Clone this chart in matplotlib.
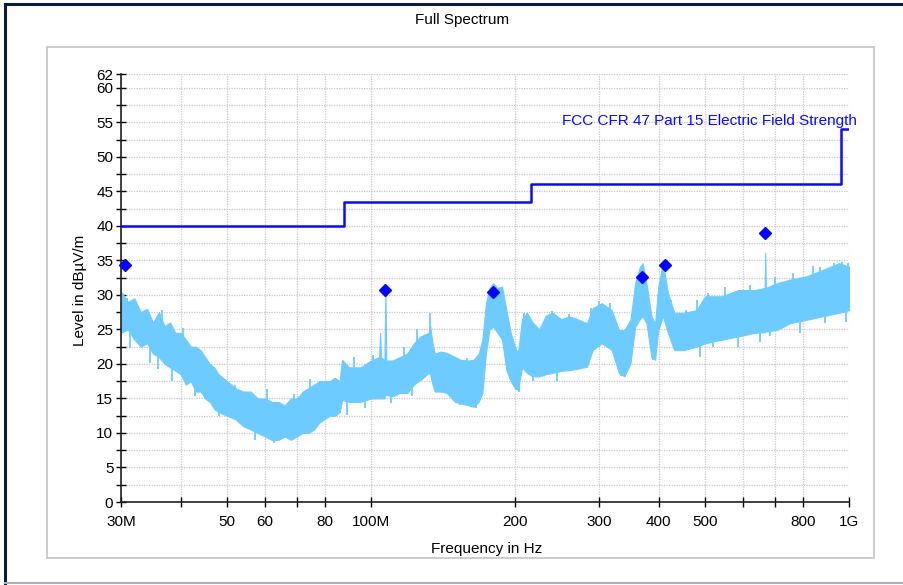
import matplotlib
matplotlib.use("Agg")
import numpy as np
import matplotlib.pyplot as plt
from matplotlib.lines import Line2D
from matplotlib.patches import Rectangle
from matplotlib.ticker import FixedLocator, NullFormatter

plt.rcParams['font.family'] = ['Liberation Sans', 'DejaVu Sans']

# ---- data (frequencies in MHz, levels in dBuV/m) ----
spec_freq = [30, 31, 32, 33, 34, 35, 36, 37, 38, 39, 40, 41, 42, 43, 44, 45, 46, 47, 48, 50,
             52, 54, 56, 58, 60, 62, 64, 66, 68, 70, 72, 74, 76, 78, 80, 82, 84, 86, 87, 90,
             95, 100, 104, 104.5, 105, 106.7, 107.2, 107.7, 111, 115, 119, 123, 127, 132, 133,
             134.5, 136, 140, 144, 150, 154, 160, 164, 168, 171, 174, 177, 180, 184, 188, 192,
             196, 200, 203, 207, 212, 218, 225, 232, 240, 250, 260, 270, 283, 291, 304, 319,
             330, 339, 349, 357, 365, 370, 377, 386, 393, 399, 408, 418, 431, 451, 480, 500,
             541, 587, 634, 666, 668, 670, 706, 752, 815, 880, 953, 1000]
spec_low = [24.5, 25, 23.5, 22.5, 23, 21.5, 21, 20, 19.5, 19, 18.5, 17, 17.5, 16, 16, 15, 14.5, 13.5, 13, 12.5,
            12, 11, 10.5, 10, 9.5, 9, 9, 9.5, 9, 9.5, 10, 10, 10.5, 11.5, 12, 12.5, 12.5, 13, 14.8, 14.5,
            14.5, 15, 15, 15, 15, 15, 15.5, 15.5, 15.3, 15.8, 15.8, 17, 17.7, 18.7, 18.5,
            17, 16, 16, 15.8, 14.5, 14.3, 14, 13.8, 14.5, 15.8, 21.6, 25, 25.4, 24.5, 23.5, 19.1,
            17.5, 16.5, 16.2, 19.5, 18.7, 18.2, 18.2, 18.5, 18.7, 19, 19.1, 19.3, 19.6, 22, 23, 22,
            18.7, 18.2, 20.1, 25.4, 26.5, 26.9, 25.9, 21, 20.6, 24.9, 26.9, 24.5, 22, 22, 22.5, 23,
            23.5, 24, 24.5, 24.6, 24.7, 24.7, 24.9, 25.9, 26.4, 26.9, 27.4, 27.8]
spec_high = [30.5, 29, 29.5, 27.5, 28, 26, 27.5, 25.5, 26, 24.5, 24.5, 23.5, 22.5, 22.5, 22, 21, 20, 19.5, 18.5, 17.5,
             16.5, 16, 16, 15, 15, 14.5, 14.5, 14, 15, 15, 16, 16.5, 17, 17.5, 17.5, 17.5, 18, 17.5, 20.6, 19.5,
             19.5, 20.5, 21, 24.5, 21, 20.5, 30.7, 20.5, 20.5, 21, 21.5, 23, 24, 24.5, 25.5,
             23, 21.5, 21.8, 21.6, 21, 20.6, 20.5, 20.6, 21.5, 23.5, 28.8, 31, 31.7, 31, 31.2, 27.8,
             24.5, 22.5, 21.6, 26.5, 27.4, 26, 25, 27, 27.4, 26.5, 26.9, 26.5, 25.9, 28.1, 28.8, 27.8,
             24.9, 24.9, 26.4, 31.7, 34, 34.6, 31.7, 26.9, 25.9, 31.2, 34.6, 30.3, 27.4, 27.4, 27.8, 29.8,
             29.8, 30.7, 30.7, 31, 36.1, 31, 31.7, 32.2, 32.7, 33.6, 34.6, 34.1]

# isolated noise excursions
spike_up_freq = [30.9, 34.0, 36.5, 37.6, 40.5, 43.6, 48.2, 52.0, 60.5, 69.0, 74.7, 80.0, 92, 101, 117,
                 125, 133, 158.6, 208.6, 212, 239, 260, 289, 300, 316, 424, 455, 480, 508, 549,
                 622, 700, 762, 840, 870, 930, 966, 993]
spike_up_top = [29.5, 27.4, 27.8, 25.5, 25.2, 22.2, 18.4, 17.0, 16.3, 15.6, 17.8, 17.4, 21.0, 21.3, 22.5,
                25.0, 27.4, 20.9, 27.4, 27.4, 27.6, 27.2, 28.1, 29.1, 28.8, 29.3, 27.8, 29.3, 30.3, 31.2,
                31.4, 32.6, 33.2, 34.2, 34.1, 34.6, 34.8, 34.6]
spike_dn_freq = [31.3, 34.5, 35.9, 38.3, 42.8, 48.2, 57.2, 62.6, 69.0, 89.2, 97, 110, 122, 153.8, 165.5,
                 204, 218, 245, 334, 389, 469, 487, 520, 587, 650, 685, 790, 889, 987]
spike_dn_bot = [22.3, 20.1, 19.3, 17.5, 15.4, 12.4, 9.0, 8.6, 9.2, 12.6, 13.6, 14.3, 15.3, 14.1, 13.6,
                16.0, 17.5, 17.6, 18.2, 20.6, 22.2, 21.0, 22.4, 22.5, 23.2, 24.0, 24.5, 25.9, 26.1]

limit_freq = [30, 88, 88, 216, 216, 960, 960, 1000]
limit_level = [40, 40, 43.5, 43.5, 46, 46, 54, 54]
limit_name = "FCC CFR 47 Part 15 Electric Field Strength"

peak_freq = [30.6, 107.2, 180.4, 369, 412, 668]
peak_level = [34.3, 30.7, 30.4, 32.6, 34.3, 39.0]

xtick_freq = [30, 40, 50, 60, 70, 80, 100, 200, 300, 400, 500, 600, 700, 800, 1000]
xtick_labels = ["30M", "", "50", "60", "", "80", "100M", "200", "300", "400", "500", "", "", "800", "1G"]
ytick_major = [0, 5, 10, 15, 20, 25, 30, 35, 40, 45, 50, 55, 60, 62]

# ---- figure ----
W, H = 904, 585
fig = plt.figure(figsize=(W / 100, H / 100), dpi=100)
fig.patch.set_facecolor('white')

def fx(px):
    return px / W

def fy(py):
    return 1 - py / H

# outer frame
fig.add_artist(Line2D([fx(5.5), fx(5.5)], [fy(3.5), fy(583)], color='#0d1a40', lw=2.2))
fig.add_artist(Line2D([fx(5.5), fx(904)], [fy(3.5), fy(3.5)], color='#0d1a40', lw=2.2))
fig.add_artist(Line2D([fx(5.5), fx(904)], [fy(583), fy(583)], color='#a8b0b8', lw=1.5))
# inner panel
fig.add_artist(Rectangle((fx(47), fy(558)), fx(874) - fx(47), fy(47) - fy(558),
                         fill=False, edgecolor='#c4c4c4', lw=1.2))

ax = fig.add_axes([fx(121), fy(502), fx(849) - fx(121), fy(74) - fy(502)])
ax.set_xscale('log')
ax.set_xlim(30e6, 1e9)
ax.set_ylim(0, 62)

hz = lambda lst: [v * 1e6 for v in lst]
trace_col = '#6ecbff'

ax.fill_between(hz(spec_freq), spec_low, spec_high, color=trace_col, lw=0.8,
                edgecolor=trace_col, zorder=2)
lf = np.log10(spec_freq)
mid = (np.array(spec_low) + np.array(spec_high)) / 2
up_base = np.interp(np.log10(spike_up_freq), lf, mid)
dn_base = np.interp(np.log10(spike_dn_freq), lf, mid)
ax.vlines(hz(spike_up_freq), up_base, spike_up_top, color=trace_col, lw=1.3, zorder=2)
ax.vlines(hz(spike_dn_freq), spike_dn_bot, dn_base, color=trace_col, lw=1.3, zorder=2)

ax.plot(hz(limit_freq), limit_level, color='#0a0aff', lw=1.8, zorder=3)
ax.plot(hz(peak_freq), peak_level, ls='none', marker='D', ms=6.5, color='#0505f5',
        mec='#0505f5', zorder=4, clip_on=False)

ax.text(1.04e9, 55.2, limit_name, color='#0a0aff', fontsize=11, ha='right', va='center',
        clip_on=False, zorder=5)

# ticks
ax.xaxis.set_major_locator(FixedLocator(hz(xtick_freq)))
ax.xaxis.set_minor_locator(FixedLocator([]))
ax.set_xticklabels(xtick_labels)
ax.xaxis.set_minor_formatter(NullFormatter())
ax.yaxis.set_major_locator(FixedLocator(ytick_major))
ax.yaxis.set_minor_locator(FixedLocator([v + 2.5 for v in range(0, 60, 5)]))
ax.tick_params(axis='both', which='both', direction='inout', length=7, width=1,
               colors='black', labelsize=11)
ax.tick_params(axis='x', pad=6)
ax.tick_params(axis='y', pad=2)

ax.grid(True, which='both', color='#c8c8c8', ls=(0, (1, 1)), lw=0.9)
ax.set_axisbelow(True)
for s in ['top', 'right']:
    ax.spines[s].set_visible(False)
for s in ['left', 'bottom']:
    ax.spines[s].set_linewidth(1.2)
    ax.spines[s].set_color('#202020')

fig.text(fx(462), fy(20), "Full Spectrum", fontsize=11, ha='center', va='center')
fig.text(fx(487), fy(549), "Frequency in Hz", fontsize=11, ha='center', va='center')
fig.text(fx(80), fy(290), "Level in dBµV/m", fontsize=11, ha='center', va='center', rotation=90)

fig.savefig("out.png", dpi=100)
